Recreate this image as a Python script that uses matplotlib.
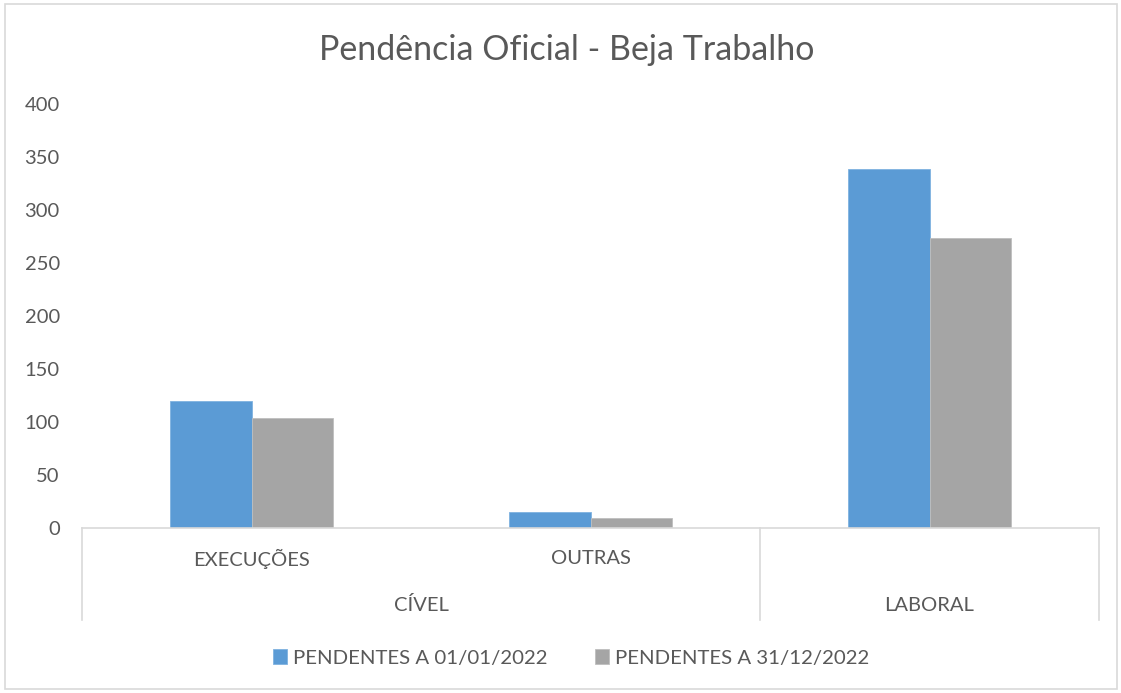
import matplotlib.pyplot as plt
from matplotlib.patches import Rectangle
import matplotlib.transforms as mtransforms
import numpy as np

categories = ['EXECUÇÕES', 'OUTRAS', 'LABORAL']
groups = ['CÍVEL', 'LABORAL']
group_spans = [(0, 1), (2, 2)]   # index range of categories in each group
series = ['PENDENTES A 01/01/2022', 'PENDENTES A 31/12/2022']
inicio = [120, 15, 339]
fim = [104, 9, 274]
yticks = [0, 50, 100, 150, 200, 250, 300, 350, 400]

blue = '#5B9BD5'
gray = '#A5A5A5'
txt = '#595959'
line = '#D9D9D9'

plt.rcParams['font.family'] = ['Lato', 'DejaVu Sans']

W, H = 1121, 693
fig = plt.figure(figsize=(W / 100, H / 100), dpi=100)
ax = fig.add_axes([82 / W, (H - 528) / H, (1099 - 82) / W, (528 - 104) / H])

x = np.arange(len(categories))
bw = 0.239
ax.bar(x - bw / 2, inicio, bw, color=blue, edgecolor='#7FB2E0', linewidth=0.6, label=series[0])
ax.bar(x + bw / 2, fim, bw, color=gray, edgecolor='#BFBFBF', linewidth=0.6, label=series[1])

ax.set_xlim(-0.5, len(categories) - 0.5)
ax.set_ylim(0, 400)
ax.set_yticks(yticks)
ax.tick_params(axis='y', length=0, labelsize=14.5, labelcolor=txt, pad=16)
ax.set_xticks([])
for s in ['top', 'right', 'left']:
    ax.spines[s].set_visible(False)
ax.spines['bottom'].set_color(line)
ax.spines['bottom'].set_linewidth(1.2)

# multi-level category axis
trans = mtransforms.blended_transform_factory(ax.transData, ax.transAxes)
bottom = -0.217
edges = [-0.5] + [g[1] + 0.5 for g in group_spans]
for e in edges:
    ax.plot([e, e], [0, bottom], transform=trans, color=line, lw=1.2, clip_on=False)
for i, c in enumerate(categories[:2]):
    ax.text(i, -0.073, c, transform=trans, ha='center', va='center', fontsize=14.5, color=txt)
for g, (a, b) in zip(groups, group_spans):
    ax.text((a + b) / 2, -0.182, g, transform=trans, ha='center', va='center', fontsize=14.5, color=txt)

fig.suptitle('Pendência Oficial - Beja Trabalho', x=567 / W, y=1 - 50 / H, va='center',
             fontsize=24.5, color=txt)

fig.legend(loc='center', bbox_to_anchor=(571 / W, 1 - 658 / H), ncol=2, frameon=False,
           fontsize=14.7, labelcolor=txt, handlelength=0.7, handleheight=0.7,
           handletextpad=0.3, columnspacing=2.3)

fig.patches.append(Rectangle((5 / W, 4 / H), (1117 - 5) / W, (689 - 4) / H,
                             transform=fig.transFigure, fill=False, edgecolor=line, lw=1.2))

fig.savefig('out.png', dpi=100)
